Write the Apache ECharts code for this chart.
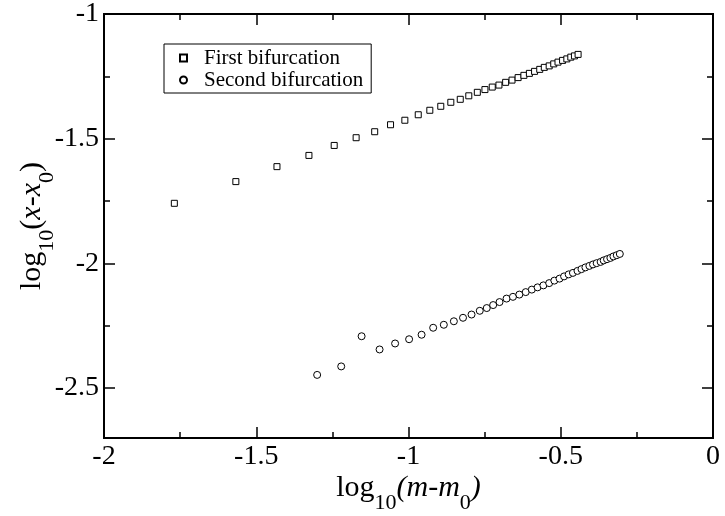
<!DOCTYPE html>
<html>
<head>
<meta charset="utf-8">
<script src="https://cdn.jsdelivr.net/npm/echarts@6/dist/echarts.min.js"></script>
<style>html,body{margin:0;padding:0;background:#fff;}#c{width:725px;height:516px;}</style>
</head>
<body>
<div id="c"></div>
<script>
// First bifurcation (squares)
const firstX = [-1.769,-1.567,-1.432,-1.327,-1.244,-1.172,-1.111,-1.059,-1.012,-0.968,-0.930,-0.894,-0.861,-0.830,-0.802,-0.774,-0.749,-0.725,-0.703,-0.681,-0.660,-0.640,-0.621,-0.603,-0.586,-0.569,-0.554,-0.538,-0.523,-0.509,-0.494,-0.480,-0.467,-0.455,-0.443];
const firstY = [-1.759,-1.672,-1.612,-1.567,-1.527,-1.496,-1.472,-1.444,-1.426,-1.404,-1.386,-1.370,-1.354,-1.342,-1.328,-1.314,-1.303,-1.293,-1.285,-1.274,-1.265,-1.255,-1.246,-1.238,-1.230,-1.222,-1.214,-1.208,-1.200,-1.193,-1.186,-1.180,-1.173,-1.168,-1.162];
// Second bifurcation (circles)
const secondX = [-1.300,-1.221,-1.154,-1.095,-1.044,-0.998,-0.957,-0.919,-0.884,-0.851,-0.821,-0.793,-0.766,-0.743,-0.722,-0.701,-0.678,-0.657,-0.636,-0.615,-0.595,-0.576,-0.557,-0.538,-0.521,-0.504,-0.489,-0.474,-0.460,-0.445,-0.432,-0.419,-0.406,-0.394,-0.382,-0.369,-0.359,-0.348,-0.337,-0.327,-0.316,-0.306];
const secondY = [-2.447,-2.413,-2.292,-2.345,-2.321,-2.304,-2.286,-2.258,-2.246,-2.232,-2.218,-2.205,-2.190,-2.179,-2.167,-2.155,-2.141,-2.134,-2.125,-2.115,-2.105,-2.096,-2.088,-2.079,-2.069,-2.061,-2.052,-2.044,-2.038,-2.030,-2.023,-2.016,-2.010,-2.004,-1.999,-1.994,-1.988,-1.983,-1.978,-1.972,-1.967,-1.962];
const seriesNames = ['First bifurcation','Second bifurcation'];
const xTicks = [-2,-1.5,-1,-0.5,0];
const yTicks = [-2.5,-2,-1.5,-1];
const yMinorTicks = [-2.25,-1.75,-1.25];

const FONT = 'Liberation Serif';
const zip = (a,b) => a.map((v,i)=>[v,b[i]]);
const chart = echarts.init(document.getElementById('c'));
const LINE = {show:true, onZero:false, lineStyle:{color:'#000', width:2}};
const GRID = {left:104, right:12, top:14, bottom:78, outerBoundsMode:'none', containLabel:false};
const baseX = {
  type:'value', min:-2, max:0, interval:0.5,
  axisLine:LINE,
  axisTick:{show:true, inside:true, length:11, lineStyle:{color:'#000', width:1.5}},
  minorTick:{show:true, splitNumber:2, length:6, lineStyle:{color:'#000', width:1.5}},
  splitLine:{show:false}
};
const baseY = {
  type:'value', min:-2.7, max:-1,
  axisLine:LINE,
  splitLine:{show:false}
};
const rich = {
  m:{fontFamily:FONT, fontSize:30, color:'#000', verticalAlign:'top'},
  i:{fontFamily:FONT, fontSize:30, fontStyle:'italic', color:'#000', verticalAlign:'top'},
  s:{fontFamily:FONT, fontSize:22, color:'#000', verticalAlign:'top', padding:[19,0,0,0]}
};
const majorY = {show:true, inside:true, length:11, customValues:yTicks, lineStyle:{color:'#000', width:1.5}};
const minorY = {show:true, inside:true, length:6, customValues:yMinorTicks, lineStyle:{color:'#000', width:1.5}};
chart.setOption({
  animation:false,
  backgroundColor:'#fff',
  grid:[Object.assign({}, GRID), Object.assign({}, GRID)],
  legend:{
    orient:'vertical', left:164, top:44,
    data:seriesNames,
    backgroundColor:'#fff', borderColor:'#000', borderWidth:1,
    padding:[3,8,2,15], itemGap:0, itemWidth:7, itemHeight:7,
    textStyle:{fontFamily:FONT, fontSize:21, color:'#000', padding:[0,0,0,12], lineHeight:22}
  },
  xAxis:[
    Object.assign({}, baseX, {gridIndex:0, position:'bottom',
      axisLabel:{show:true, margin:5, color:'#000', fontFamily:FONT, fontSize:28,
        customValues:xTicks},
      name:'{m|log}{s|10}{i|(m-m}{s|0}{i|)}', nameLocation:'middle', nameGap:35, nameMoveOverlap:false,
      nameTextStyle:{rich:rich}
    }),
    Object.assign({}, baseX, {gridIndex:1, position:'top', axisLabel:{show:false}})
  ],
  yAxis:[
    Object.assign({}, baseY, {gridIndex:0, position:'left', axisTick:majorY,
      axisLabel:{show:true, margin:5, color:'#000', fontFamily:FONT, fontSize:28, customValues:yTicks},
      name:'{m|log}{s|10}{m|(}{i|x}{m|-}{i|x}{s|0}{m|)}', nameLocation:'middle', nameGap:46, nameRotate:90,
      nameMoveOverlap:false,
      nameTextStyle:{rich:rich}
    }),
    Object.assign({}, baseY, {gridIndex:0, position:'right', axisTick:majorY, axisLabel:{show:false}}),
    Object.assign({}, baseY, {gridIndex:1, position:'left', axisTick:minorY, axisLabel:{show:false}}),
    Object.assign({}, baseY, {gridIndex:1, position:'right', axisTick:minorY, axisLabel:{show:false}})
  ],
  series:[
    {name:seriesNames[0], type:'scatter', xAxisIndex:0, yAxisIndex:0, symbol:'rect', symbolSize:6,
     itemStyle:{color:'#fff', borderColor:'#000', borderWidth:1, opacity:1},
     data:zip(firstX, firstY)},
    {name:seriesNames[1], type:'scatter', xAxisIndex:0, yAxisIndex:0, symbol:'circle', symbolSize:7,
     itemStyle:{color:'#fff', borderColor:'#000', borderWidth:1, opacity:1},
     data:zip(secondX, secondY)}
  ]
});
</script>
</body>
</html>
